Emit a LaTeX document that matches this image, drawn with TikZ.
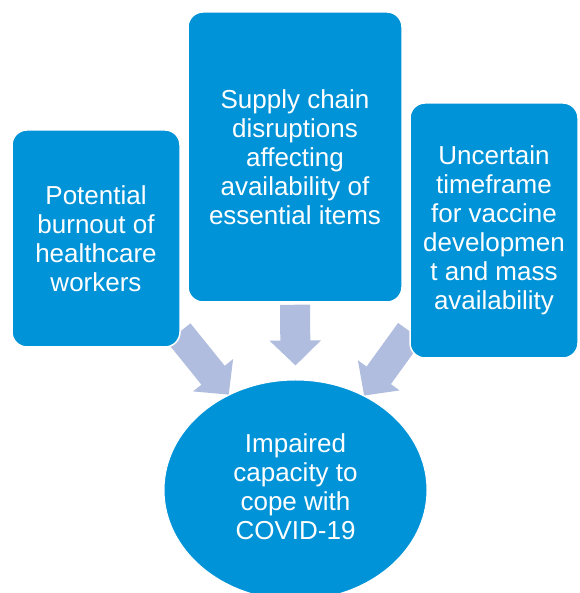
\documentclass[tikz,border=0pt]{standalone}
\usepackage{fontspec}
\setmainfont{Liberation Sans}
\usepackage{xcolor}
\usepackage{tikz}
\usetikzlibrary{arrows.meta,shapes.geometric,backgrounds}
\definecolor{causeblue}{HTML}{0093D7}
\definecolor{arrowgrey}{HTML}{B0BDDE}
\tikzset{
  causebox/.style={draw=white, line width=1.5pt, fill=causeblue, rounded corners=15pt,
    text=white, align=center, font=\fontsize{26}{29}\selectfont},
  effectblob/.style={ellipse, draw=white, line width=1pt, fill=causeblue, inner sep=0pt,
    text=white, align=center, font=\fontsize{26}{29}\selectfont},
  bigarrow/.style={draw=arrowgrey, line width=30pt,
    -{Triangle[length=25pt,width=50pt,fill=arrowgrey]}}
}

\begin{document}
\begin{tikzpicture}[x=1pt,y=1pt]
\useasboundingbox (0,0) rectangle (579,593);
\node[causebox, minimum width=168pt, minimum height=217pt] (burnout) at (96,354.5)
  {Potential\\burnout of\\healthcare\\workers};
\node[causebox, minimum width=214pt, minimum height=290pt] (supply) at (295,436)
  {Supply chain\\disruptions\\affecting\\availability of\\essential items};
\node[causebox, minimum width=168pt, minimum height=255pt] (timeframe) at (494,362.5)
  {Uncertain\\timeframe\\for vaccine\\developmen\\t and mass\\availability};
\node[effectblob, minimum width=263pt, minimum height=220pt] (covid) at (295.5,103)
  {\raisebox{3pt}{\begin{tabular}{@{}c@{}}Impaired\\capacity to\\cope with\\COVID-19\end{tabular}}};
% arrows sit underneath the boxes
\begin{scope}[on background layer]
\draw[bigarrow] ([shift={(-2,15)}]burnout.south east) -- (covid.125.6);
\draw[bigarrow] ([yshift=-2pt]supply.south) -- ([yshift=14pt]covid.north);
\draw[bigarrow] ([shift={(1,27)}]timeframe.south west) -- (covid.54.4);
\end{scope}
\end{tikzpicture}
\end{document}
